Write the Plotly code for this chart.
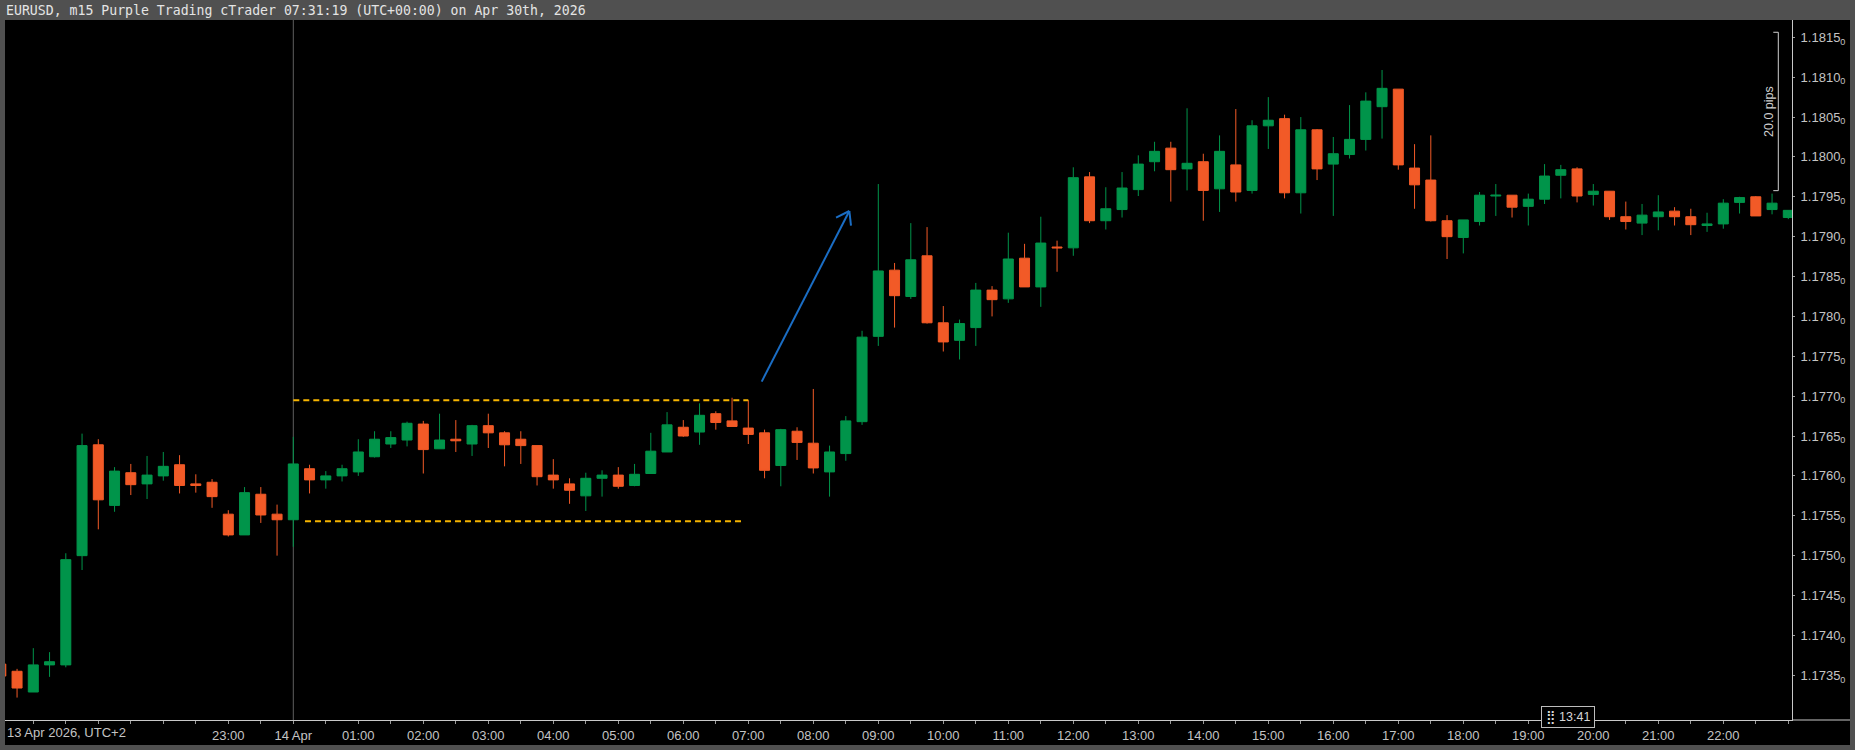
import plotly.graph_objects as go
import pandas as pd

# ---------------- data (EURUSD m15) ----------------
start_time = "2026-04-13 19:30"

opens = [
    1.17364, 1.17355, 1.17329, 1.17363, 1.17363, 1.17500, 1.17639, 1.17563, 1.17604, 1.17590,
    1.17600, 1.17614, 1.17590, 1.17592, 1.17552, 1.17526, 1.17577, 1.17552, 1.17545, 1.17609,
    1.17595, 1.17600, 1.17605, 1.17624, 1.17640, 1.17645, 1.17665, 1.17634, 1.17646, 1.17640,
    1.17663, 1.17654, 1.17646, 1.17638, 1.17601, 1.17590, 1.17575, 1.17597, 1.17601, 1.17588,
    1.17603, 1.17630, 1.17661, 1.17655, 1.17678, 1.17669, 1.17660, 1.17654, 1.17613, 1.17656,
    1.17641, 1.17605, 1.17628, 1.17668, 1.17775, 1.17858, 1.17825, 1.17876, 1.17792, 1.17770,
    1.17786, 1.17833, 1.17822, 1.17873, 1.17837, 1.17887, 1.17886, 1.17975, 1.17920, 1.17934,
    1.17959, 1.17994, 1.18011, 1.17985, 1.17994, 1.17960, 1.17990, 1.17958, 1.18039, 1.18048,
    1.17955, 1.18034, 1.17991, 1.18003, 1.18022, 1.18063, 1.18085, 1.17986, 1.17971, 1.17920,
    1.17899, 1.17919, 1.17951, 1.17952, 1.17938, 1.17947, 1.17977, 1.17985, 1.17953, 1.17957,
    1.17925, 1.17917, 1.17925, 1.17932, 1.17925, 1.17914, 1.17916, 1.17943, 1.17950, 1.17934,
    1.17924,
]
highs = [
    1.17365, 1.17358, 1.17384, 1.17379, 1.17503, 1.17653, 1.17646, 1.17611, 1.17615, 1.17625,
    1.17630, 1.17626, 1.17602, 1.17596, 1.17557, 1.17586, 1.17586, 1.17564, 1.17649, 1.17614,
    1.17606, 1.17614, 1.17646, 1.17656, 1.17656, 1.17668, 1.17669, 1.17678, 1.17670, 1.17664,
    1.17678, 1.17656, 1.17656, 1.17638, 1.17621, 1.17597, 1.17604, 1.17607, 1.17611, 1.17615,
    1.17654, 1.17680, 1.17670, 1.17691, 1.17681, 1.17698, 1.17695, 1.17658, 1.17659, 1.17661,
    1.17709, 1.17638, 1.17675, 1.17782, 1.17966, 1.17867, 1.17917, 1.17912, 1.17813, 1.17796,
    1.17842, 1.17838, 1.17905, 1.17891, 1.17925, 1.17895, 1.17987, 1.17981, 1.17962, 1.17981,
    1.18002, 1.18019, 1.18019, 1.18061, 1.18004, 1.18027, 1.18060, 1.18046, 1.18075, 1.18053,
    1.18050, 1.18035, 1.18025, 1.18065, 1.18081, 1.18109, 1.18085, 1.18016, 1.18027, 1.17927,
    1.17921, 1.17956, 1.17966, 1.17952, 1.17954, 1.17991, 1.17990, 1.17987, 1.17966, 1.17957,
    1.17944, 1.17941, 1.17952, 1.17937, 1.17935, 1.17930, 1.17947, 1.17950, 1.17951, 1.17954,
    1.17933,
]
lows = [
    1.17349, 1.17322, 1.17329, 1.17348, 1.17360, 1.17482, 1.17533, 1.17555, 1.17576, 1.17571,
    1.17594, 1.17578, 1.17579, 1.17560, 1.17524, 1.17526, 1.17541, 1.17500, 1.17511, 1.17578,
    1.17584, 1.17593, 1.17600, 1.17623, 1.17635, 1.17637, 1.17603, 1.17634, 1.17630, 1.17625,
    1.17635, 1.17612, 1.17615, 1.17588, 1.17584, 1.17565, 1.17556, 1.17574, 1.17584, 1.17587,
    1.17603, 1.17630, 1.17649, 1.17639, 1.17658, 1.17662, 1.17640, 1.17597, 1.17587, 1.17620,
    1.17603, 1.17574, 1.17619, 1.17664, 1.17763, 1.17786, 1.17822, 1.17791, 1.17756, 1.17746,
    1.17763, 1.17800, 1.17817, 1.17837, 1.17812, 1.17856, 1.17876, 1.17917, 1.17909, 1.17924,
    1.17951, 1.17982, 1.17944, 1.17958, 1.17920, 1.17931, 1.17944, 1.17954, 1.18010, 1.17948,
    1.17929, 1.17971, 1.17926, 1.17998, 1.18008, 1.18023, 1.17984, 1.17935, 1.17919, 1.17872,
    1.17879, 1.17914, 1.17926, 1.17924, 1.17914, 1.17941, 1.17948, 1.17943, 1.17939, 1.17921,
    1.17909, 1.17902, 1.17908, 1.17914, 1.17902, 1.17906, 1.17910, 1.17929, 1.17926, 1.17928,
    1.17922,
]
closes = [
    1.17349, 1.17334, 1.17363, 1.17367, 1.17495, 1.17638, 1.17570, 1.17606, 1.17589, 1.17601,
    1.17612, 1.17588, 1.17588, 1.17574, 1.17526, 1.17579, 1.17551, 1.17545, 1.17615, 1.17595,
    1.17600, 1.17609, 1.17630, 1.17646, 1.17648, 1.17666, 1.17633, 1.17645, 1.17644, 1.17663,
    1.17654, 1.17639, 1.17638, 1.17599, 1.17595, 1.17582, 1.17597, 1.17601, 1.17587, 1.17602,
    1.17631, 1.17664, 1.17650, 1.17676, 1.17667, 1.17662, 1.17652, 1.17607, 1.17658, 1.17642,
    1.17610, 1.17630, 1.17669, 1.17774, 1.17857, 1.17826, 1.17871, 1.17792, 1.17768, 1.17791,
    1.17833, 1.17821, 1.17872, 1.17837, 1.17892, 1.17886, 1.17974, 1.17920, 1.17935, 1.17961,
    1.17991, 1.18007, 1.17984, 1.17992, 1.17958, 1.18007, 1.17956, 1.18039, 1.18046, 1.17955,
    1.18034, 1.17985, 1.18004, 1.18022, 1.18070, 1.18086, 1.17990, 1.17965, 1.17920, 1.17900,
    1.17921, 1.17952, 1.17952, 1.17937, 1.17947, 1.17976, 1.17984, 1.17951, 1.17957, 1.17925,
    1.17919, 1.17927, 1.17931, 1.17925, 1.17915, 1.17916, 1.17942, 1.17949, 1.17926, 1.17942,
    1.17933,
]

y_tick_vals = [1.17350, 1.17400, 1.17450, 1.17500, 1.17550, 1.17600, 1.17650, 1.17700,
               1.17750, 1.17800, 1.17850, 1.17900, 1.17950, 1.18000, 1.18050, 1.18100, 1.18150]

x_tick_times = ["2026-04-13 23:00"] + ["2026-04-14 %02d:00" % h for h in range(0, 23)]
x_tick_text = ["23:00", "14 Apr", "01:00", "02:00", "03:00", "04:00", "05:00", "06:00",
               "07:00", "08:00", "09:00", "10:00", "11:00", "12:00", "13:00", "14:00",
               "15:00", "16:00", "17:00", "18:00", "19:00", "20:00", "21:00", "22:00"]

# drawings (price levels)
range_top = 1.176948
range_bottom = 1.175431
pips_top = 1.181563
pips_bottom = 1.179577

# ---------------- helpers ----------------
times = pd.date_range(start_time, periods=len(opens), freq="15min")
base = pd.Timestamp("2026-04-14 00:00")


def at(k):
    return (base + pd.Timedelta(minutes=15 * k)).strftime("%Y-%m-%d %H:%M:%S")


GREEN = "#00944A"
ORANGE = "#F25A27"
GOLD = "#F7B500"
BLUE = "#1A6DC4"
AXIS = "#c8c8c8"
TXT = "#c4c4c4"
FONT = "Liberation Sans, Arial, sans-serif"

fig = go.Figure()
fig.add_trace(go.Candlestick(
    x=times, open=opens, high=highs, low=lows, close=closes,
    increasing=dict(line=dict(color=GREEN, width=1), fillcolor=GREEN),
    decreasing=dict(line=dict(color=ORANGE, width=1), fillcolor=ORANGE),
    whiskerwidth=0, hoverinfo="skip",
))

PW, PH = 1787.0, 700.0

shapes = [
    # black chart area (plot + axes strip)
    dict(type="rect", xref="paper", yref="paper", x0=0, x1=1845 / PW, y0=-25 / PH, y1=1,
         fillcolor="#000000", line=dict(width=0), layer="below"),
    # day separator
    dict(type="line", xref="x", yref="paper", x0=at(0), x1=at(0), y0=0, y1=1,
         line=dict(color="#5e5e5e", width=1), layer="below"),
    # range lines
    dict(type="line", xref="x", yref="y", x0=at(0), x1=at(28), y0=range_top, y1=range_top,
         line=dict(color=GOLD, width=2, dash="6px,4px")),
    dict(type="line", xref="x", yref="y", x0=at(0.72), x1=at(27.55), y0=range_bottom, y1=range_bottom,
         line=dict(color=GOLD, width=2, dash="6px,4px")),
    # blue arrow
    dict(type="line", xref="x", yref="y", x0=at(28.825), y0=1.177182, x1=at(34.22), y1=1.179322,
         line=dict(color=BLUE, width=2)),
    dict(type="line", xref="x", yref="y", x0=at(34.22), y0=1.179322, x1=at(33.40), y1=1.179238,
         line=dict(color=BLUE, width=2)),
    dict(type="line", xref="x", yref="y", x0=at(34.22), y0=1.179322, x1=at(34.32), y1=1.179138,
         line=dict(color=BLUE, width=2)),
    # 20 pips ruler
    dict(type="line", xref="x", yref="y", x0=at(91.385), x1=at(91.385), y0=pips_bottom, y1=pips_top,
         line=dict(color="#cfcfcf", width=1)),
    dict(type="line", xref="x", yref="y", x0=at(91.077), x1=at(91.385), y0=pips_top, y1=pips_top,
         line=dict(color="#cfcfcf", width=1)),
    dict(type="line", xref="x", yref="y", x0=at(91.077), x1=at(91.385), y0=pips_bottom, y1=pips_bottom,
         line=dict(color="#cfcfcf", width=1)),
    # x-axis line continuing under the price scale
    dict(type="line", xref="paper", yref="paper", x0=1, x1=1845 / PW, y0=0, y1=0,
         line=dict(color=AXIS, width=1)),
]

annotations = [
    dict(xref="paper", yref="paper", x=(3.7 - 5) / PW, y=(720 - 10) / PH, xanchor="left",
         yanchor="middle", showarrow=False,
         text="EURUSD, m15 Purple Trading cTrader 07:31:19 (UTC+00:00) on Apr 30th, 2026",
         font=dict(family="DejaVu Sans Mono, monospace", size=13.2, color="#e4e4e4")),
    dict(xref="paper", yref="paper", x=(5 - 5) / PW, y=(720 - 732) / PH, xanchor="left",
         yanchor="middle", showarrow=False, text="13 Apr 2026, UTC+2",
         font=dict(family=FONT, size=13, color=TXT)),
    dict(xref="x", yref="y", x=at(90.81), y=1.180576, textangle=-90, showarrow=False,
         xanchor="center", yanchor="middle", text="20.0 pips",
         font=dict(family=FONT, size=12.5, color="#cfcfcf")),
    dict(xref="paper", yref="paper", x=(1567.5 - 5) / PW, y=(720 - 717) / PH, xanchor="center",
         yanchor="middle", showarrow=False, text="⣿ 13:41", width=48, height=16,
         bgcolor="#000000", bordercolor="#bdbdbd", borderwidth=1, borderpad=2,
         font=dict(family=FONT, size=12.5, color="#d6d6d6")),
]

fig.update_layout(
    width=1855, height=750,
    margin=dict(l=5, r=63, t=20, b=30, pad=0),
    paper_bgcolor="#505050",
    plot_bgcolor="#000000",
    showlegend=False,
    hovermode=False,
    boxgap=0.385,
    boxgroupgap=0,
    shapes=shapes,
    annotations=annotations,
    xaxis=dict(
        type="date",
        range=[at(-17.742), at(92.228)],
        rangeslider=dict(visible=False),
        tickmode="array", tickvals=x_tick_times, ticktext=x_tick_text,
        ticks="outside", ticklen=3, tickcolor="#9a9a9a",
        minor=dict(tickmode="array",
                   tickvals=list(pd.date_range("2026-04-13 19:30", "2026-04-14 23:00", freq="30min")),
                   ticks="outside", ticklen=3, tickcolor="#9a9a9a"),
        showline=True, linecolor=AXIS, linewidth=1,
        showgrid=False, zeroline=False,
        tickfont=dict(family=FONT, size=13, color=TXT),
        fixedrange=True,
    ),
    yaxis=dict(
        side="right",
        range=[1.172939, 1.181717],
        tickmode="array", tickvals=y_tick_vals,
        ticktext=["%.4f<sub>0</sub>" % v for v in y_tick_vals],
        ticks="outside", ticklen=2, tickcolor="#9a9a9a",
        ticklabelstandoff=3,
        showline=True, linecolor=AXIS, linewidth=1,
        showgrid=False, zeroline=False,
        tickfont=dict(family=FONT, size=13, color=TXT),
        fixedrange=True,
    ),
)

fig.write_html(
    "out.html",
    config={"displayModeBar": False},
    post_script="document.body.style.margin='0';document.body.style.background='#505050';",
)
